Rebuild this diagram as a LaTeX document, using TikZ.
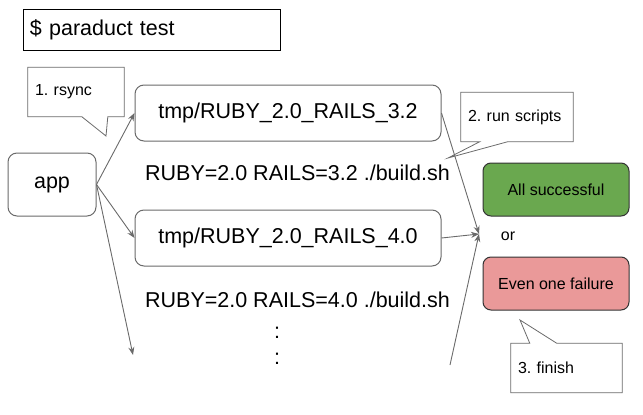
\documentclass[tikz,border=0pt]{standalone}
\usepackage{fontspec}
\setmainfont{Liberation Sans}
\usetikzlibrary{arrows.meta, positioning, calc}
\definecolor{linegray}{HTML}{6A6A6A}
\definecolor{okgreen}{HTML}{6AA84F}
\definecolor{ngred}{HTML}{EA9999}
\frenchspacing

\begin{document}
\begin{tikzpicture}[
    x=1pt, y=-1pt,
    >={Stealth[length=8pt, width=6pt]},
    big/.style={font=\fontsize{21.5}{26}\selectfont},
    small/.style={font=\fontsize{16}{19}\selectfont},
    cmd/.style={draw=black, line width=0.8pt, big, minimum width=257pt, minimum height=41pt, text width=243pt, align=left, inner sep=7pt},
    dir/.style={draw=linegray, line width=1pt, rounded corners=9pt, big, minimum height=56pt},
    result/.style={draw=black!80, line width=1pt, rounded corners=8pt, small, minimum width=146pt, minimum height=53pt},
    callout/.style={small, inner sep=7pt, align=left, minimum height=49pt},
    balloon/.style={draw=linegray, line width=0.8pt},
    msg/.style={->, draw=linegray, line width=0.9pt}
]
    \useasboundingbox (0,0) rectangle (643,415);

    % --- Command ---
    \node[cmd] (cmd) at (151.5,29.5) {\$ paraduct test};

    % --- Nodes ---
    \node[dir, minimum width=88pt, minimum height=63pt] (app) at (52,184.5) {app};
    \node[dir, minimum width=306pt] (tmp32) at (288,113) {tmp/RUBY\_2.0\_RAILS\_3.2};
    \node[dir, minimum width=306pt] (tmp40) at (288,238) {tmp/RUBY\_2.0\_RAILS\_4.0};
    \node[big] (build32) at (297.5,173) {RUBY=2.0 RAILS=3.2 ./build.sh};
    \node[big] (build40) at (297.5,300) {RUBY=2.0 RAILS=4.0 ./build.sh};
    \node[big, align=center] (dots) at (277,346) {:\\:};

    % --- Results ---
    \node[result, fill=okgreen] (ok) at (556,189.5) {All successful};
    \node[small] (or) at (508,236) {or};
    \node[result, fill=ngred] (ng) at (556,283.5) {Even one failure};

    % --- Callouts ---
    \node[callout, minimum width=96pt, text width=82pt] (rsync) at (76,92) {1. rsync};
    \node[callout, minimum width=112pt, text width=98pt] (runs) at (517,117) {2. run scripts};
    \node[callout, minimum width=111pt, text width=97pt] (fin) at (566.5,368) {3. finish};
    \coordinate (rsynctip) at (106,136);
    \coordinate (runstip) at (448,158);
    \coordinate (fintip) at (520,320);

    \draw[balloon] (rsync.north west) -- (rsync.north east) -- (rsync.south east)
        -- ($(rsync.south west)+(80,0)$) -- (rsynctip) -- ($(rsync.south west)+(54,0)$)
        -- (rsync.south west) -- cycle;
    \draw[balloon] (runs.north west) -- (runs.north east) -- (runs.south east)
        -- ($(runs.south west)+(47,0)$) -- (runstip) -- ($(runs.south west)+(19,0)$)
        -- (runs.south west) -- cycle;
    \draw[balloon] (fin.north west) -- ($(fin.north west)+(19,0)$) -- (fintip)
        -- ($(fin.north west)+(46,0)$) -- (fin.north east) -- (fin.south east)
        -- (fin.south west) -- cycle;

    % --- Arrows ---
    \coordinate (more) at (133,355);
    \coordinate (join) at (479,234);
    \coordinate (rest) at (450,365);
    \draw[msg] (app.east) -- (tmp32.west);
    \draw[msg] (app.east) -- (tmp40.west);
    \draw[msg] (app.east) -- (more);
    \draw[msg] (tmp32.east) -- (join);
    \draw[msg] (tmp40.east) -- (join);
    \draw[msg] (rest) -- (join);

\end{tikzpicture}
\end{document}
